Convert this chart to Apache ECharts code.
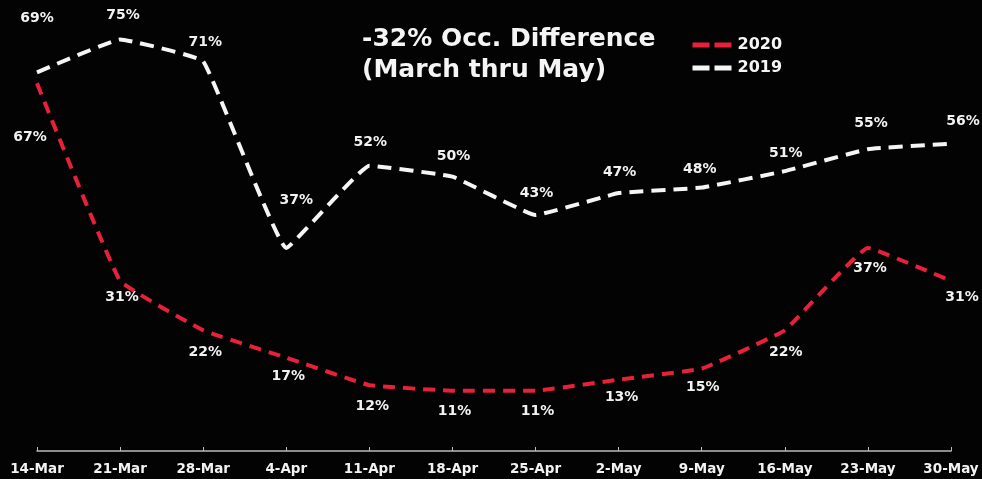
<!DOCTYPE html>
<html>
<head>
<meta charset="utf-8">
<script src="https://cdn.jsdelivr.net/npm/echarts@6/dist/echarts.min.js"></script>
<style>
  html, body { margin: 0; padding: 0; background: #030303; }
  #chart { width: 982px; height: 479px; }
</style>
</head>
<body>
<div id="chart"></div>
<script>
var weeks = ['14-Mar', '21-Mar', '28-Mar', '4-Apr', '11-Apr', '18-Apr', '25-Apr', '2-May', '9-May', '16-May', '23-May', '30-May'];
var occ2020 = [67, 31, 22, 17, 12, 11, 11, 13, 15, 22, 37, 31];
var occ2019 = [69, 75, 71, 37, 52, 50, 43, 47, 48, 51, 55, 56];

// label nudges per point [x, y]
var off2019 = [[0, -33], [3, -3], [2, 2], [10, -27], [1, -2], [1, 1], [1, -1], [1, 0], [-2, 3], [1, 3], [3, -5], [12, -1]];
var off2020 = [[-7, 33], [2, -5], [2, 1], [2, -2], [3, 0], [2, 0], [2, 0], [3, -3], [1, -2], [1, 1], [2, -1], [11, -5]];

var FONT = 'DejaVu Sans';

var chartDom = document.getElementById('chart');
var myChart = echarts.init(chartDom);
var option;

var labelFont = { color: '#f2f2f2', fontWeight: 'bold', fontSize: 14, fontFamily: FONT };

function withLabels(values, offs) {
  return values.map(function (v, i) {
    return { value: v, label: { offset: offs[i] } };
  });
}

option = {
  backgroundColor: '#030303',
  animation: false,
  title: {
    text: '-32% Occ. Difference\n(March thru May)',
    left: 357,
    top: 19,
    textStyle: { color: '#f5f5f5', fontSize: 25, fontWeight: 'bold', fontFamily: FONT, lineHeight: 31 }
  },
  legend: {
    orient: 'vertical',
    left: 685,
    top: 32,
    itemGap: 7,
    itemWidth: 40,
    itemHeight: 12,
    itemStyle: { opacity: 0 },
    lineStyle: { type: [17, 5], width: 5, cap: 'butt' },
    data: ['2020', '2019'],
    textStyle: { color: '#f5f5f5', fontSize: 16, fontWeight: 'bold', fontFamily: FONT }
  },
  grid: { left: 37, right: 31, top: 12, bottom: 28 },
  xAxis: {
    type: 'category',
    boundaryGap: false,
    data: weeks,
    axisLine: { lineStyle: { color: '#bbbbbb', width: 1.5 } },
    axisTick: { inside: true, length: 4, lineStyle: { color: '#bbbbbb' } },
    axisLabel: { color: '#f2f2f2', fontWeight: 'bold', fontSize: 13.5, fontFamily: FONT, margin: 11 }
  },
  yAxis: {
    type: 'value',
    min: 0,
    max: 80,
    show: false,
    splitLine: { show: false }
  },
  series: [
    {
      name: '2020',
      type: 'line',
      smooth: 0.08,
      symbol: 'circle',
      symbolSize: 0,
      showSymbol: true,
      color: '#e8203a',
      itemStyle: { borderWidth: 0 },
      lineStyle: { color: '#e8203a', width: 4, type: [12, 8], join: 'round' },
      label: Object.assign({ show: true, position: 'bottom', distance: 14, formatter: '{c}%' }, labelFont),
      data: withLabels(occ2020, off2020)
    },
    {
      name: '2019',
      type: 'line',
      smooth: 0.08,
      symbol: 'circle',
      symbolSize: 0,
      showSymbol: true,
      color: '#f5f5f5',
      itemStyle: { borderWidth: 0 },
      lineStyle: { color: '#f5f5f5', width: 4, type: [14, 8], join: 'round' },
      label: Object.assign({ show: true, position: 'top', distance: 14, formatter: '{c}%' }, labelFont),
      data: withLabels(occ2019, off2019)
    }
  ]
};

option && myChart.setOption(option);
</script>
</body>
</html>
